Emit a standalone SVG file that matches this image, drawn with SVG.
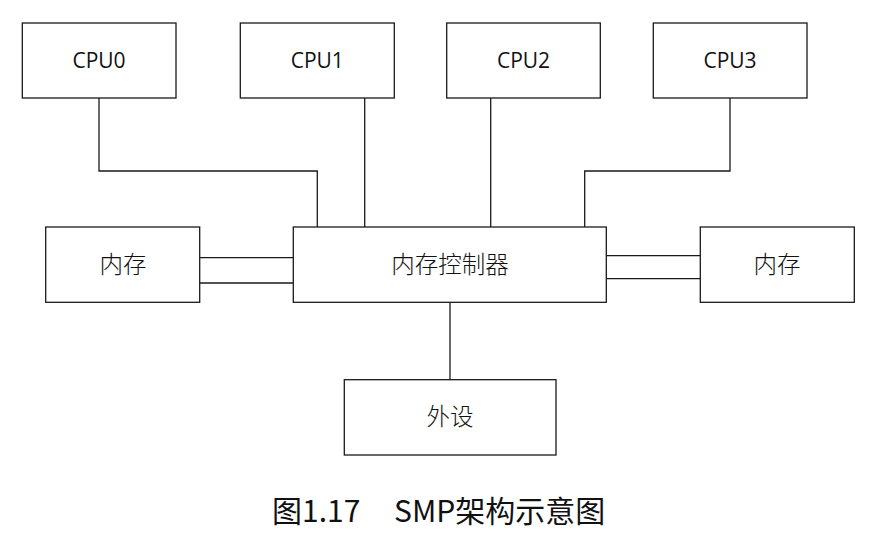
<svg xmlns="http://www.w3.org/2000/svg" width="887" height="542" viewBox="0 0 887 542">
<style>
.box{fill:#fff;stroke:#1a1a1a;stroke-width:1.3}
.ln{fill:none;stroke:#1a1a1a;stroke-width:1.3}
.lat{font-family:"Open Sans","Noto Sans CJK SC",sans-serif;font-size:21px;fill:#111;text-anchor:middle}
.cjk{font-family:"Noto Sans CJK SC",sans-serif;font-weight:300;font-size:23.5px;fill:#111;text-anchor:middle}
.cap{font-family:"Noto Sans CJK SC",sans-serif;font-size:30px;fill:#111}
</style>
<rect width="887" height="542" fill="#fff"/>
<g id="connectors">
<polyline class="ln" points="99,98 99,171 317.3,171 317.3,227"/>
<line class="ln" x1="364.7" y1="98" x2="364.7" y2="227"/>
<line class="ln" x1="490.7" y1="98" x2="490.7" y2="227"/>
<polyline class="ln" points="730,98 730,171 584.7,171 584.7,227"/>
<line class="ln" x1="200" y1="257.7" x2="293.3" y2="257.7"/>
<line class="ln" x1="200" y1="283" x2="293.3" y2="283"/>
<line class="ln" x1="606.3" y1="255.7" x2="700.3" y2="255.7"/>
<line class="ln" x1="606.3" y1="278.7" x2="700.3" y2="278.7"/>
<line class="ln" x1="450" y1="302.3" x2="450" y2="379.7"/>
</g>
<g id="cpu0"><rect class="box" x="22.3" y="23" width="153.7" height="75"/><text class="lat" x="99" y="68">CPU0</text></g>
<g id="cpu1"><rect class="box" x="240.3" y="23" width="154" height="75"/><text class="lat" x="317.3" y="68">CPU1</text></g>
<g id="cpu2"><rect class="box" x="446.7" y="23" width="153.6" height="75"/><text class="lat" x="523.5" y="68">CPU2</text></g>
<g id="cpu3"><rect class="box" x="653.3" y="23" width="153.7" height="75"/><text class="lat" x="730" y="68">CPU3</text></g>
<g id="mem-left"><rect class="box" x="45.7" y="227" width="154" height="75.3"/><text class="cjk" x="123" y="273">内存</text></g>
<g id="controller"><rect class="box" x="293.3" y="227" width="313" height="75.3"/><text class="cjk" x="450" y="273">内存控制器</text></g>
<g id="mem-right"><rect class="box" x="700.3" y="227" width="154" height="75.3"/><text class="cjk" x="777" y="273">内存</text></g>
<g id="peripheral"><rect class="box" x="344.3" y="379.7" width="211.7" height="75.3"/><text class="cjk" x="450" y="425">外设</text></g>
<text class="cap" y="522"><tspan x="272">图1.17</tspan><tspan x="394">SMP架构示意图</tspan></text>
</svg>
